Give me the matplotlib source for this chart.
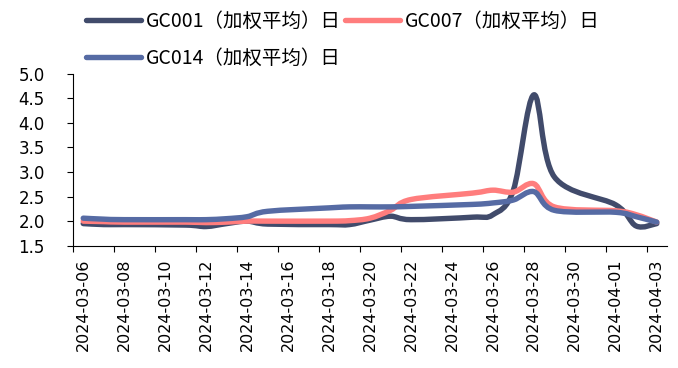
import numpy as np
import matplotlib
matplotlib.use('Agg')
import matplotlib.pyplot as plt
import matplotlib.dates as mdates
from matplotlib.path import Path
from matplotlib.patches import PathPatch
from matplotlib.lines import Line2D

dates = ['2024-03-06', '2024-03-07', '2024-03-08', '2024-03-11', '2024-03-12',
         '2024-03-13', '2024-03-14', '2024-03-15', '2024-03-18', '2024-03-19',
         '2024-03-20', '2024-03-21', '2024-03-22', '2024-03-25', '2024-03-26',
         '2024-03-27', '2024-03-28', '2024-03-29', '2024-04-01', '2024-04-02',
         '2024-04-03']
gc001 = [1.95, 1.93, 1.93, 1.92, 1.89, 1.95, 2.00, 1.94, 1.93, 1.93,
         2.02, 2.10, 2.03, 2.08, 2.13, 2.63, 4.57, 2.90, 2.33, 1.90, 1.95]
gc007 = [2.00, 1.99, 1.98, 1.98, 1.97, 1.98, 2.00, 2.00, 2.00, 2.01,
         2.06, 2.22, 2.44, 2.57, 2.63, 2.59, 2.76, 2.29, 2.21, 2.13, 1.98]
gc014 = [2.06, 2.04, 2.03, 2.03, 2.03, 2.05, 2.09, 2.20, 2.27, 2.29,
         2.29, 2.29, 2.30, 2.34, 2.37, 2.43, 2.60, 2.22, 2.18, 2.09, 1.98]

names = ['GC001（加权平均）日', 'GC007（加权平均）日', 'GC014（加权平均）日']
colors = ['#414B6B', '#FF7D7D', '#566BA4']
yticks = [1.5, 2.0, 2.5, 3.0, 3.5, 4.0, 4.5, 5.0]


def smooth_path(x, y):
    # smoothed line: Catmull-Rom pieces as cubic Bezier segments
    pts = np.column_stack([x, y])
    n = len(pts)
    verts = [pts[0]]
    codes = [Path.MOVETO]
    for i in range(n - 1):
        p0 = pts[max(i - 1, 0)]
        p1 = pts[i]
        p2 = pts[i + 1]
        p3 = pts[min(i + 2, n - 1)]
        verts += [p1 + (p2 - p0) / 6, p2 - (p3 - p1) / 6, p2]
        codes += [Path.CURVE4] * 3
    return Path(verts, codes)


fig = plt.figure(figsize=(6.78, 3.68), dpi=100)
ax = fig.add_axes([73 / 678, 1 - 245.7 / 368, 594 / 678, 172 / 368])

x = mdates.date2num(np.array(dates, dtype='datetime64[D]'))
lw = 3.9
for vals, c in zip([gc001, gc007, gc014], colors):
    ax.add_patch(PathPatch(smooth_path(x, np.array(vals)), fill=False,
                           edgecolor=c, lw=lw, capstyle='round',
                           joinstyle='round'))

ax.set_xlim(x[0] - 0.5, x[-1] + 0.5)
ax.set_ylim(1.5, 5.0)

label_days = np.arange(np.datetime64('2024-03-06'), np.datetime64('2024-04-04'), 2)
label_pos = mdates.date2num(label_days)
ax.set_xticks(label_pos, labels=[str(d) for d in label_days])
ax.set_xticks(label_pos - 0.5, minor=True)
ax.tick_params(axis='x', which='major', length=0, pad=9.4, rotation=90,
               labelsize=11.5)
ax.tick_params(axis='x', which='minor', length=4.3, width=0.8, direction='out')

ax.set_yticks(yticks, labels=[f'{v:.1f}' for v in yticks])
ax.tick_params(axis='y', length=4.3, width=0.8, direction='out', pad=16,
               labelsize=12)
for lab in ax.get_xticklabels() + ax.get_yticklabels():
    lab.set_family('DejaVu Sans')

for side in ['top', 'right']:
    ax.spines[side].set_visible(False)
for side in ['left', 'bottom']:
    ax.spines[side].set_linewidth(0.8)

# row-major legend: GC001, GC007 on the first row, GC014 below
handles = [Line2D([], [], color=c, lw=lw, solid_capstyle='round') for c in colors]
order = [0, 2, 1]
fig.legend([handles[i] for i in order], [names[i] for i in order],
           ncol=2, loc='upper left', bbox_to_anchor=(86 / 678, 1 - 11 / 368),
           frameon=False, borderpad=0, borderaxespad=0,
           handlelength=2.83, handletextpad=0.26, columnspacing=0.2,
           labelspacing=0.82,
           prop={'family': ['Noto Sans CJK SC', 'DejaVu Sans'], 'size': 14})

fig.savefig('out.png', dpi=100)
